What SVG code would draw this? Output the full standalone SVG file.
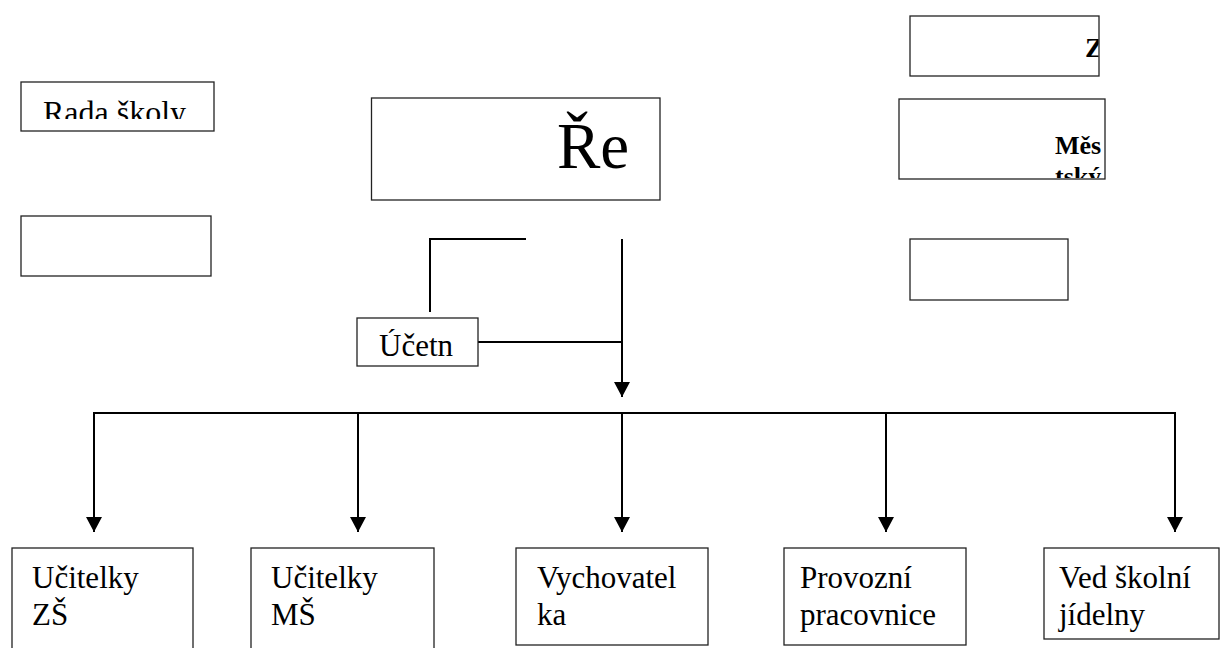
<svg xmlns="http://www.w3.org/2000/svg" width="1227" height="648" viewBox="0 0 1227 648">
<style>
.box{fill:#fff;stroke:#222;stroke-width:1.3}
.t{font-family:"Liberation Serif","Times New Roman",serif;fill:#000;font-size:31px}
.b{font-weight:bold}
.c{fill:none;stroke:#000;stroke-width:2}
</style>
<defs>
<marker id="ah" markerUnits="userSpaceOnUse" markerWidth="17" markerHeight="17" refX="15" refY="8" orient="auto">
<path d="M0,0 L15,8 L0,16 Z" fill="#000"/>
</marker>
<clipPath id="cRada"><rect x="21" y="82" width="193" height="37"/></clipPath>
<clipPath id="cZ"><rect x="910" y="16" width="188.5" height="60"/></clipPath>
<clipPath id="cMes"><rect x="899" y="99" width="205.5" height="79"/></clipPath>
<clipPath id="cUc"><rect x="357" y="329" width="121" height="37"/></clipPath>
<clipPath id="cVy"><rect x="516" y="548" width="192" height="87"/></clipPath>
</defs>
<g id="connectors">
<polyline class="c" points="526,239 430,239 430,312"/>
<line class="c" x1="478" y1="342" x2="622" y2="342"/>
<line class="c" x1="622" y1="239" x2="622" y2="397" marker-end="url(#ah)"/>
<polyline class="c" points="94,532 94,413 1175,413 1175,532" marker-end="url(#ah)"/>
<line class="c" x1="94" y1="413" x2="94" y2="532" marker-end="url(#ah)"/>
<line class="c" x1="358" y1="413" x2="358" y2="532" marker-end="url(#ah)"/>
<line class="c" x1="622" y1="413" x2="622" y2="532" marker-end="url(#ah)"/>
<line class="c" x1="886" y1="413" x2="886" y2="532" marker-end="url(#ah)"/>
</g>
<g id="rada-skoly">
<rect class="box" x="21" y="82" width="193" height="49"/>
<text class="t" x="43" y="123" style="font-size:32px" clip-path="url(#cRada)">Rada školy</text>
</g>
<g id="empty-left">
<rect class="box" x="21" y="216" width="190" height="60"/>
</g>
<g id="reditel">
<rect class="box" x="371.5" y="98" width="288.5" height="102"/>
<text class="t" x="557" y="168" style="font-size:65px">Ře</text>
</g>
<g id="z-box">
<rect class="box" x="910" y="16" width="189" height="60"/>
<text class="t b" x="1085" y="57" style="font-size:28px" clip-path="url(#cZ)">Z</text>
</g>
<g id="mestsky">
<rect class="box" x="899" y="99" width="206" height="80"/>
<text class="t b" x="1055" y="154" style="font-size:26px" clip-path="url(#cMes)">Měs<tspan x="1055" y="185">tský</tspan></text>
</g>
<g id="empty-right">
<rect class="box" x="910" y="239" width="158" height="61"/>
</g>
<g id="ucetni">
<rect class="box" x="357" y="318" width="121" height="48"/>
<text class="t" x="379" y="356" clip-path="url(#cUc)">Účetn</text>
</g>
<g id="ucitelky-zs">
<rect class="box" x="12" y="548" width="181" height="110"/>
<text class="t" x="32" y="588">Učitelky<tspan x="32" y="625">ZŠ</tspan></text>
</g>
<g id="ucitelky-ms">
<rect class="box" x="251" y="548" width="183" height="110"/>
<text class="t" x="271" y="588">Učitelky<tspan x="271" y="625">MŠ</tspan></text>
</g>
<g id="vychovatelka">
<rect class="box" x="516" y="548" width="192" height="97"/>
<text class="t" x="537" y="588" clip-path="url(#cVy)">Vychovatel<tspan x="537" y="625">ka</tspan></text>
</g>
<g id="provozni">
<rect class="box" x="784" y="548" width="182" height="97"/>
<text class="t" x="800" y="588">Provozní<tspan x="800" y="625">pracovnice</tspan></text>
</g>
<g id="jidelna">
<rect class="box" x="1044" y="548" width="175" height="91"/>
<text class="t" x="1059" y="588">Ved školní<tspan x="1059" y="625">jídelny</tspan></text>
</g>
</svg>
